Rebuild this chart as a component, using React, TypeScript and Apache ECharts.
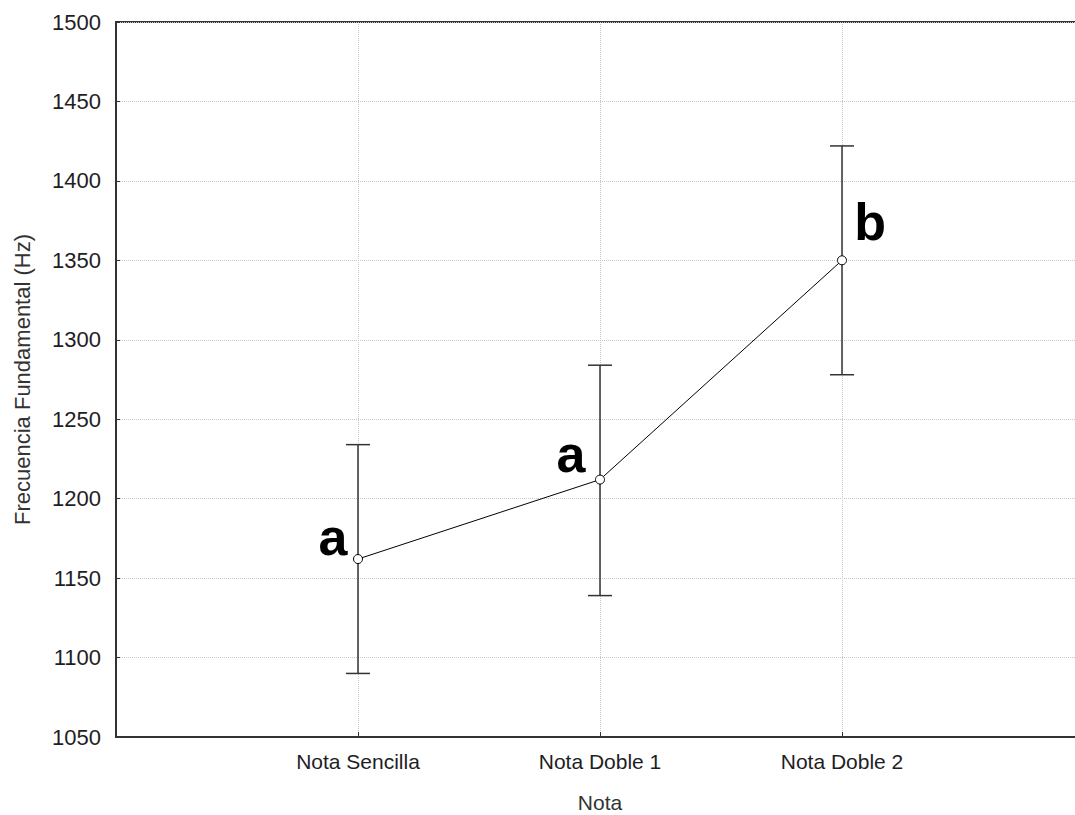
import React, { useEffect, useRef } from "react";
import * as echarts from "echarts";

const categories = ["Nota Sencilla", "Nota Doble 1", "Nota Doble 2"];
const means = [1162, 1212, 1350];
const lower = [1090, 1139, 1278];
const upper = [1234, 1284, 1422];
const groups = ["a", "a", "b"];
const labelOffsets = [[-25, -22], [-29, -26], [28, -38]];
const yMin = 1050;
const yMax = 1500;
const yStep = 50;

const FONT = "'Liberation Sans', Arial, sans-serif";
const TEXT = "#1e1e24";

export default function App() {
  const ref = useRef<HTMLDivElement>(null);
  useEffect(() => {
    if (!ref.current) return;
    const chart = echarts.init(ref.current, null, { renderer: "svg" });
    const lineData = means.map((m, i) => ({
      value: [i + 1, m],
      label: {
        show: true,
        formatter: groups[i],
        position: "inside",
        offset: labelOffsets[i],
        fontSize: 52,
        fontWeight: "bold",
        fontFamily: FONT,
        color: "#000",
      },
    }));
    const errData = means.map((_, i) => [i + 1, lower[i], upper[i]]);
    chart.setOption({
      animation: false,
      backgroundColor: "#fff",
      grid: {
        left: 116,
        right: -9,
        top: 22,
        bottom: 78,
        outerBoundsMode: "none",
        containLabel: false,
        show: true,
        borderColor: "#333",
        borderWidth: 2,
        backgroundColor: "transparent",
      },
      xAxis: {
        type: "value",
        min: 0,
        max: 4,
        interval: 1,
        name: "Nota",
        nameLocation: "middle",
        nameGap: 55,
        nameTextStyle: { fontSize: 21, fontFamily: FONT, color: "#333" },
        axisLine: { show: true, lineStyle: { color: "#333", width: 2 } },
        axisTick: { show: true, inside: true, length: 5, lineStyle: { color: "#333" } },
        axisLabel: {
          fontSize: 21,
          fontFamily: FONT,
          color: TEXT,
          margin: 14,
          formatter: (v: number) => categories[v - 1] ?? "",
        },
        splitLine: { show: true, lineStyle: { color: "#c8c8c8", type: "dotted", width: 1 } },
      },
      yAxis: {
        type: "value",
        min: yMin,
        max: yMax,
        interval: yStep,
        name: "Frecuencia Fundamental (Hz)",
        nameLocation: "middle",
        nameGap: 83,
        nameTextStyle: { fontSize: 22, fontFamily: FONT, color: "#333" },
        axisLine: { show: true, lineStyle: { color: "#333", width: 2 } },
        axisTick: { show: true, inside: true, length: 4, lineStyle: { color: "#333" } },
        axisLabel: {
          fontSize: 22,
          fontFamily: FONT,
          color: TEXT,
          margin: 15,
          formatter: (v: number) => String(v),
        },
        splitLine: { show: true, lineStyle: { color: "#c8c8c8", type: "dotted", width: 1 } },
      },
      series: [
        {
          type: "custom",
          data: errData,
          encode: { x: 0, y: [1, 2] },
          z: 2,
          renderItem: (params: any, api: any) => {
            const x = api.value(0);
            const lo = api.coord([x, api.value(1)]);
            const hi = api.coord([x, api.value(2)]);
            const half = 12;
            const style = { stroke: "#333", lineWidth: 1.5 };
            return {
              type: "group",
              children: [
                { type: "line", shape: { x1: lo[0], y1: lo[1], x2: hi[0], y2: hi[1] }, style },
                { type: "line", shape: { x1: lo[0] - half, y1: lo[1], x2: lo[0] + half, y2: lo[1] }, style },
                { type: "line", shape: { x1: hi[0] - half, y1: hi[1], x2: hi[0] + half, y2: hi[1] }, style },
              ],
            };
          },
        },
        {
          type: "line",
          data: lineData,
          z: 5,
          symbol: "circle",
          symbolSize: 9,
          showAllSymbol: true,
          lineStyle: { color: "#000", width: 1 },
          itemStyle: { color: "#fff", borderColor: "#000", borderWidth: 1 },
        },
      ],
    });
    return () => chart.dispose();
  }, []);
  return (
    <div
      ref={ref}
      style={{ position: "fixed", left: 0, top: 0, width: 1075, height: 815, background: "#fff" }}
    />
  );
}
